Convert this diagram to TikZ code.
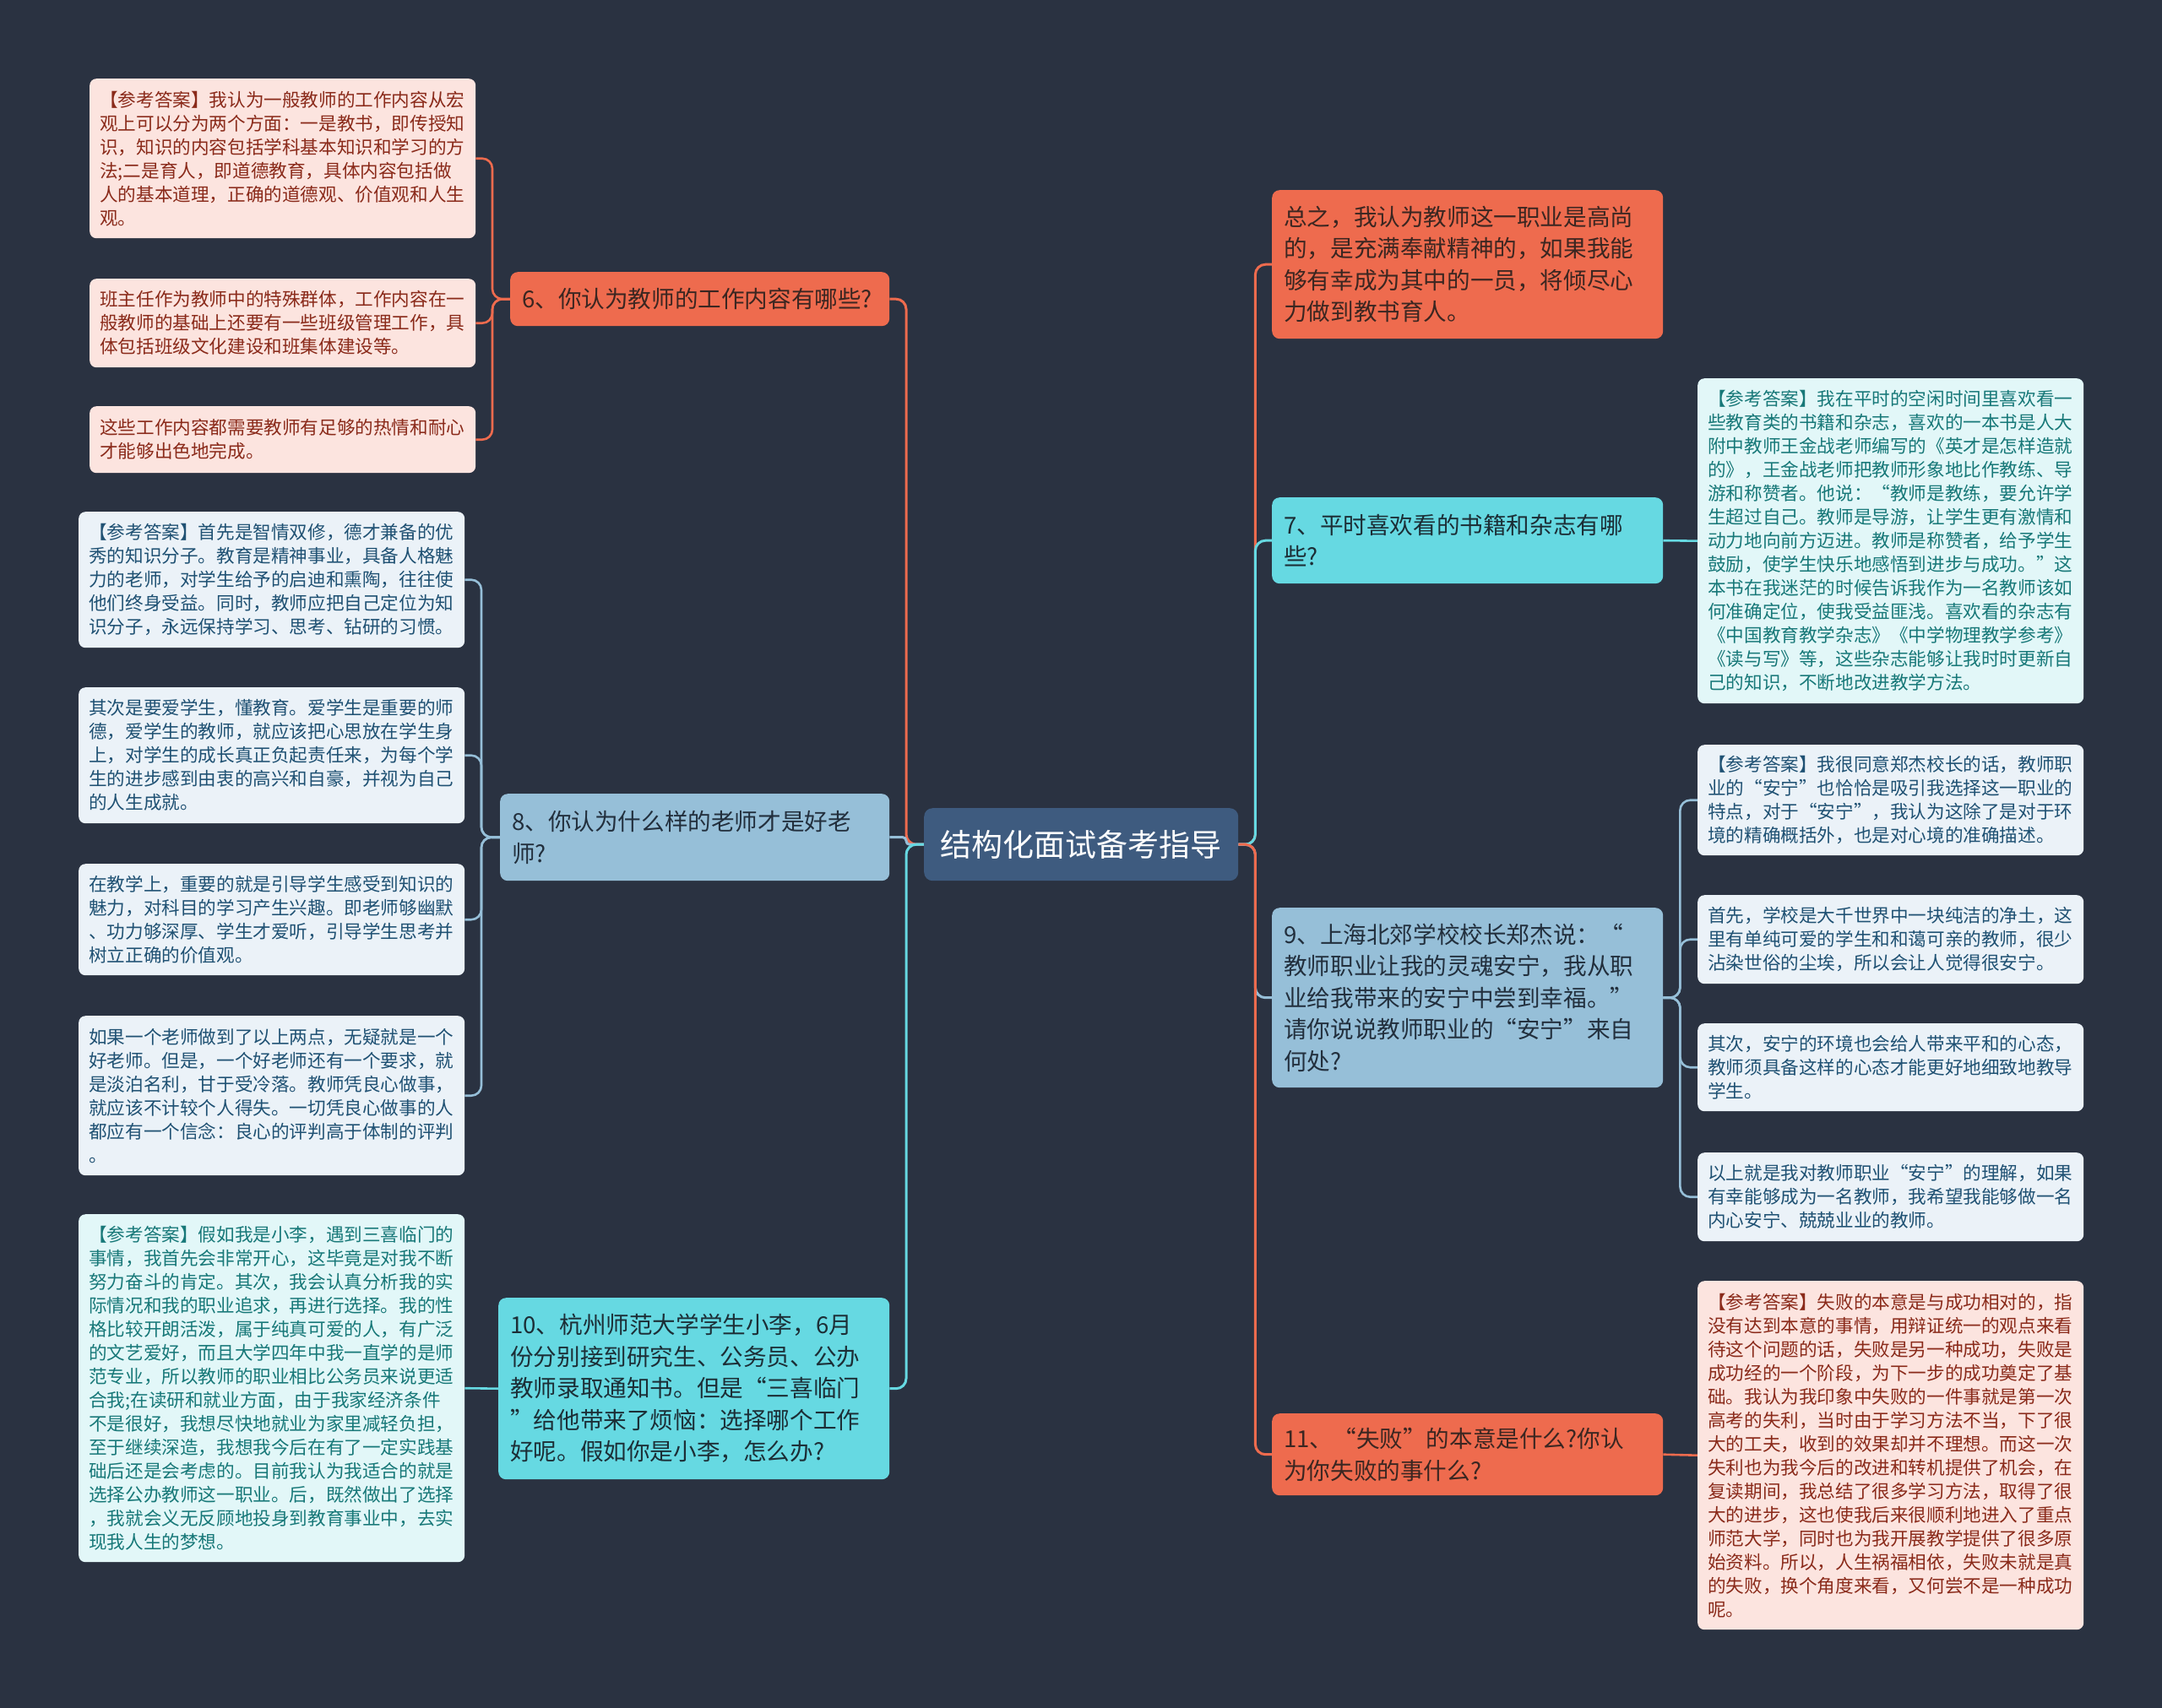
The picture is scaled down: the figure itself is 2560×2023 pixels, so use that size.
\documentclass[tikz,border=0pt]{standalone}
\usepackage{fontspec}
\setmainfont{Noto Sans CJK SC}
\usetikzlibrary{backgrounds}
\newcommand\mmleaf{\fontsize{21.6pt}{28pt}\selectfont}
\newcommand\mmbr{\fontsize{27.6pt}{37.5pt}\selectfont}
\newcommand\mmroot{\fontsize{37pt}{44pt}\selectfont}
\definecolor{bgc}{HTML}{2A3241}
\definecolor{orng}{HTML}{EE6B4E}
\definecolor{lblu}{HTML}{96BFD8}
\definecolor{cyn}{HTML}{66D9E2}
\definecolor{ctr}{HTML}{3E5B7F}
\definecolor{pinkf}{HTML}{FCE4DF}
\definecolor{pinkt}{HTML}{8A2A1A}
\definecolor{bluef}{HTML}{EBF2F8}
\definecolor{bluet}{HTML}{1F5173}
\definecolor{cynf}{HTML}{E2F7F8}
\definecolor{cynt}{HTML}{177878}
\definecolor{orngt}{HTML}{3B2621}
\definecolor{lblut}{HTML}{222F3D}
\definecolor{cynt2}{HTML}{1C2E36}
\begin{document}
\begin{tikzpicture}[x=1pt,y=-1pt,
  leafbox/.style={rounded corners=8pt, anchor=north west, minimum width=457pt, text width=433pt, inner xsep=12pt, inner ysep=0pt, align=left, font=\mmleaf},
  leafP/.style={leafbox, fill=pinkf, text=pinkt},
  leafB/.style={leafbox, fill=bluef, text=bluet},
  leafC/.style={leafbox, fill=cynf, text=cynt},
  brbox/.style={rounded corners=9pt, anchor=north west, inner xsep=14pt, inner ysep=0pt, align=left, font=\mmbr, minimum width=463pt, text width=435pt},
  brO/.style={brbox, fill=orng, text=orngt},
  brB/.style={brbox, fill=lblu, text=lblut},
  brC/.style={brbox, fill=cyn, text=cynt2},
  rootbox/.style={rounded corners=10pt, anchor=north west, minimum width=372pt, minimum height=86pt, inner sep=0pt, fill=ctr, text=white, font=\mmroot},
  cn/.style={line width=3pt, rounded corners=12pt},
  cnl/.style={line width=2.6pt, rounded corners=12pt},
]
\useasboundingbox (0,0) rectangle (2560,2023);
\begin{pgfonlayer}{background}
\fill[bgc] (0,0) rectangle (2560,2023);
\end{pgfonlayer}

% root
\node[rootbox] (root) at (1094,957) {结构化面试备考指导};

% left branches
\node[brO, minimum width=449pt, text width=421pt, minimum height=64pt] (b6) at (604,322) {6、你认为教师的工作内容有哪些?};
\node[brB, minimum width=461pt, text width=433pt, minimum height=103pt] (b8) at (592,940) {8、你认为什么样的老师才是好老\\师?};
\node[brC, minimum height=215pt] (b10) at (590,1537) {10、杭州师范大学学生小李，6月\\份分别接到研究生、公务员、公办\\教师录取通知书。但是“三喜临门\\”给他带来了烦恼：选择哪个工作\\好呢。假如你是小李，怎么办?};

% right branches
\node[brO, minimum height=176pt] (b5) at (1506,225) {总之，我认为教师这一职业是高尚\\的，是充满奉献精神的，如果我能\\够有幸成为其中的一员，将倾尽心\\力做到教书育人。};
\node[brC, minimum height=102pt] (b7) at (1506,589) {7、平时喜欢看的书籍和杂志有哪\\些?};
\node[brB, minimum height=213pt] (b9) at (1506,1075) {9、上海北郊学校校长郑杰说：“\\教师职业让我的灵魂安宁，我从职\\业给我带来的安宁中尝到幸福。”\\请你说说教师职业的“安宁”来自\\何处?};
\node[brO, minimum height=97pt] (b11) at (1506,1674) {11、“失败”的本意是什么?你认\\为你失败的事什么?};

% leaves of 6
\node[leafP, minimum height=189pt] (l6a) at (106,93) {【参考答案】我认为一般教师的工作内容从宏\\观上可以分为两个方面：一是教书，即传授知\\识，知识的内容包括学科基本知识和学习的方\\法;二是育人，即道德教育，具体内容包括做\\人的基本道理，正确的道德观、价值观和人生\\观。};
\node[leafP, minimum height=105pt] (l6b) at (106,330) {班主任作为教师中的特殊群体，工作内容在一\\般教师的基础上还要有一些班级管理工作，具\\体包括班级文化建设和班集体建设等。};
\node[leafP, minimum height=79pt] (l6c) at (106,481) {这些工作内容都需要教师有足够的热情和耐心\\才能够出色地完成。};

% leaves of 8
\node[leafB, minimum height=161pt] (l8a) at (93,606) {【参考答案】首先是智情双修，德才兼备的优\\秀的知识分子。教育是精神事业，具备人格魅\\力的老师，对学生给予的启迪和熏陶，往往使\\他们终身受益。同时，教师应把自己定位为知\\识分子，永远保持学习、思考、钻研的习惯。};
\node[leafB, minimum height=161pt] (l8b) at (93,814) {其次是要爱学生，懂教育。爱学生是重要的师\\德，爱学生的教师，就应该把心思放在学生身\\上，对学生的成长真正负起责任来，为每个学\\生的进步感到由衷的高兴和自豪，并视为自己\\的人生成就。};
\node[leafB, minimum height=132pt] (l8c) at (93,1023) {在教学上，重要的就是引导学生感受到知识的\\魅力，对科目的学习产生兴趣。即老师够幽默\\、功力够深厚、学生才爱听，引导学生思考并\\树立正确的价值观。};
\node[leafB, minimum height=189pt] (l8d) at (93,1203) {如果一个老师做到了以上两点，无疑就是一个\\好老师。但是，一个好老师还有一个要求，就\\是淡泊名利，甘于受冷落。教师凭良心做事，\\就应该不计较个人得失。一切凭良心做事的人\\都应有一个信念：良心的评判高于体制的评判\\。};

% leaf of 10
\node[leafC, minimum height=412pt] (l10) at (93,1438) {【参考答案】假如我是小李，遇到三喜临门的\\事情，我首先会非常开心，这毕竟是对我不断\\努力奋斗的肯定。其次，我会认真分析我的实\\际情况和我的职业追求，再进行选择。我的性\\格比较开朗活泼，属于纯真可爱的人，有广泛\\的文艺爱好，而且大学四年中我一直学的是师\\范专业，所以教师的职业相比公务员来说更适\\合我;在读研和就业方面，由于我家经济条件\\不是很好，我想尽快地就业为家里减轻负担，\\至于继续深造，我想我今后在有了一定实践基\\础后还是会考虑的。目前我认为我适合的就是\\选择公办教师这一职业。后，既然做出了选择\\，我就会义无反顾地投身到教育事业中，去实\\现我人生的梦想。};

% leaf of 7
\node[leafC, minimum height=385pt] (l7) at (2010,448) {【参考答案】我在平时的空闲时间里喜欢看一\\些教育类的书籍和杂志，喜欢的一本书是人大\\附中教师王金战老师编写的《英才是怎样造就\\的》，王金战老师把教师形象地比作教练、导\\游和称赞者。他说：“教师是教练，要允许学\\生超过自己。教师是导游，让学生更有激情和\\动力地向前方迈进。教师是称赞者，给予学生\\鼓励，使学生快乐地感悟到进步与成功。”这\\本书在我迷茫的时候告诉我作为一名教师该如\\何准确定位，使我受益匪浅。喜欢看的杂志有\\《中国教育教学杂志》《中学物理教学参考》\\《读与写》等，这些杂志能够让我时时更新自\\己的知识，不断地改进教学方法。};

% leaves of 9
\node[leafB, minimum height=131pt] (l9a) at (2010,882) {【参考答案】我很同意郑杰校长的话，教师职\\业的“安宁”也恰恰是吸引我选择这一职业的\\特点，对于“安宁”，我认为这除了是对于环\\境的精确概括外，也是对心境的准确描述。};
\node[leafB, minimum height=105pt] (l9b) at (2010,1060) {首先，学校是大千世界中一块纯洁的净土，这\\里有单纯可爱的学生和和蔼可亲的教师，很少\\沾染世俗的尘埃，所以会让人觉得很安宁。};
\node[leafB, minimum height=104pt] (l9c) at (2010,1212) {其次，安宁的环境也会给人带来平和的心态，\\教师须具备这样的心态才能更好地细致地教导\\学生。};
\node[leafB, minimum height=105pt] (l9d) at (2010,1365) {以上就是我对教师职业“安宁”的理解，如果\\有幸能够成为一名教师，我希望我能够做一名\\内心安宁、兢兢业业的教师。};

% leaf of 11
\node[leafP, minimum height=413pt] (l11) at (2010,1517) {【参考答案】失败的本意是与成功相对的，指\\没有达到本意的事情，用辩证统一的观点来看\\待这个问题的话，失败是另一种成功，失败是\\成功经的一个阶段，为下一步的成功奠定了基\\础。我认为我印象中失败的一件事就是第一次\\高考的失利，当时由于学习方法不当，下了很\\大的工夫，收到的效果却并不理想。而这一次\\失利也为我今后的改进和转机提供了机会，在\\复读期间，我总结了很多学习方法，取得了很\\大的进步，这也使我后来很顺利地进入了重点\\师范大学，同时也为我开展教学提供了很多原\\始资料。所以，人生祸福相依，失败未就是真\\的失败，换个角度来看，又何尝不是一种成功\\呢。};

\begin{pgfonlayer}{background}
\path (root.west) ++(-21,0) coordinate (ls);
\path (root.east) ++(20,0) coordinate (rs);
% main left
\draw[cn, orng] (root.west) -- (ls) |- (b6.east);
\draw[cn, lblu, rounded corners=4pt] (root.west) -- (ls) |- (b8.east);
\draw[cn, cyn] (root.west) -- (ls) |- (b10.east);
% main right
\draw[cn, orng] (root.east) -- (rs) |- (b5.west);
\draw[cn, cyn] (root.east) -- (rs) |- (b7.west);
\draw[cn, lblu] (root.east) -- (rs) |- (b9.west);
\draw[cn, orng] (root.east) -- (rs) |- (b11.west);
% leaves of 6
\draw[cnl, orng] (b6.west) -- ++(-21,0) |- (l6a.east);
\draw[cnl, orng] (b6.west) -- ++(-21,0) |- (l6b.east);
\draw[cnl, orng] (b6.west) -- ++(-21,0) |- (l6c.east);
% leaves of 8
\draw[cnl, lblu] (b8.west) -- ++(-22,0) |- (l8a.east);
\draw[cnl, lblu] (b8.west) -- ++(-22,0) |- (l8b.east);
\draw[cnl, lblu] (b8.west) -- ++(-22,0) |- (l8c.east);
\draw[cnl, lblu] (b8.west) -- ++(-22,0) |- (l8d.east);
% leaf of 10
\draw[cnl, cyn] (b10.west) -- (l10.east);
% leaf of 7
\draw[cnl, cyn] (b7.east) -- (l7.west);
% leaves of 9
\draw[cnl, lblu] (b9.east) -- ++(20,0) |- (l9a.west);
\draw[cnl, lblu] (b9.east) -- ++(20,0) |- (l9b.west);
\draw[cnl, lblu] (b9.east) -- ++(20,0) |- (l9c.west);
\draw[cnl, lblu] (b9.east) -- ++(20,0) |- (l9d.west);
% leaf of 11
\draw[cnl, orng] (b11.east) -- (l11.west);
\end{pgfonlayer}
\end{tikzpicture}
\end{document}
